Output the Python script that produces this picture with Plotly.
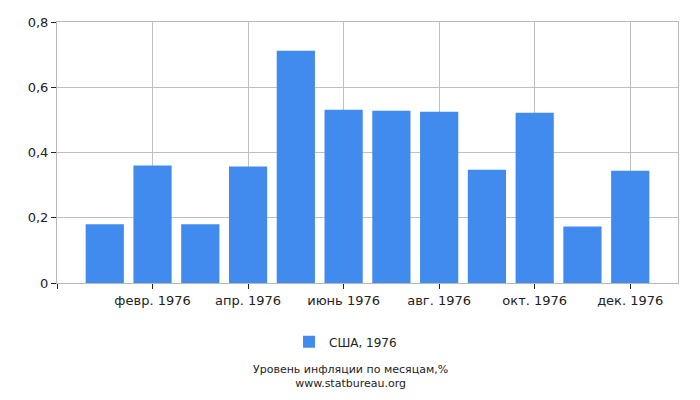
import plotly.graph_objects as go

months = [1, 2, 3, 4, 5, 6, 7, 8, 9, 10, 11, 12]
values = [0.18, 0.36, 0.18, 0.357, 0.712, 0.531, 0.528, 0.525, 0.347, 0.522, 0.173, 0.344]
tick_positions = [0, 2, 4, 6, 8, 10, 12]
tick_labels = ["", "февр. 1976", "апр. 1976", "июнь 1976", "авг. 1976", "окт. 1976", "дек. 1976"]
series_name = "США, 1976"

fig = go.Figure()
fig.add_trace(go.Bar(
    x=months, y=values, name=series_name,
    marker=dict(color="#428bee", line=dict(width=0)),
    width=0.8, showlegend=True,
    hovertemplate="%{y}<extra></extra>",
))

fig.update_layout(
    width=700, height=400,
    margin=dict(l=57, r=22, t=22, b=117),
    paper_bgcolor="white", plot_bgcolor="white",
    font=dict(family="DejaVu Sans", size=13, color="#222"),
    separators=", ",
    showlegend=True,
    legend=dict(orientation="h", x=0.4646, xanchor="center", y=-0.17, yanchor="top",
                font=dict(size=12)),
    annotations=[
        dict(text="Уровень инфляции по месяцам,%<br>www.statbureau.org",
             xref="paper", yref="paper", x=0.472, y=-0.30, yanchor="top",
             showarrow=False, font=dict(size=11, color="#222")),
    ],
)
fig.update_xaxes(
    range=[0, 13], tickvals=tick_positions, ticktext=tick_labels,
    showgrid=True, gridcolor="#c0c0c0", gridwidth=1,
    showline=True, linecolor="#b8b8b8", mirror=True,
    ticks="outside", ticklen=5, tickcolor="#222", zeroline=False,
)
fig.update_yaxes(
    range=[0, 0.8], tickvals=[0, 0.2, 0.4, 0.6, 0.8],
    ticktext=["0", "0,2", "0,4", "0,6", "0,8"],
    showgrid=True, gridcolor="#c0c0c0", gridwidth=1,
    showline=True, linecolor="#b8b8b8", mirror=True,
    ticks="outside", ticklen=5, tickcolor="#222", zeroline=False,
)

fig.write_html("out.html", config={"displayModeBar": False},
               post_script="document.body.style.margin='0';")
